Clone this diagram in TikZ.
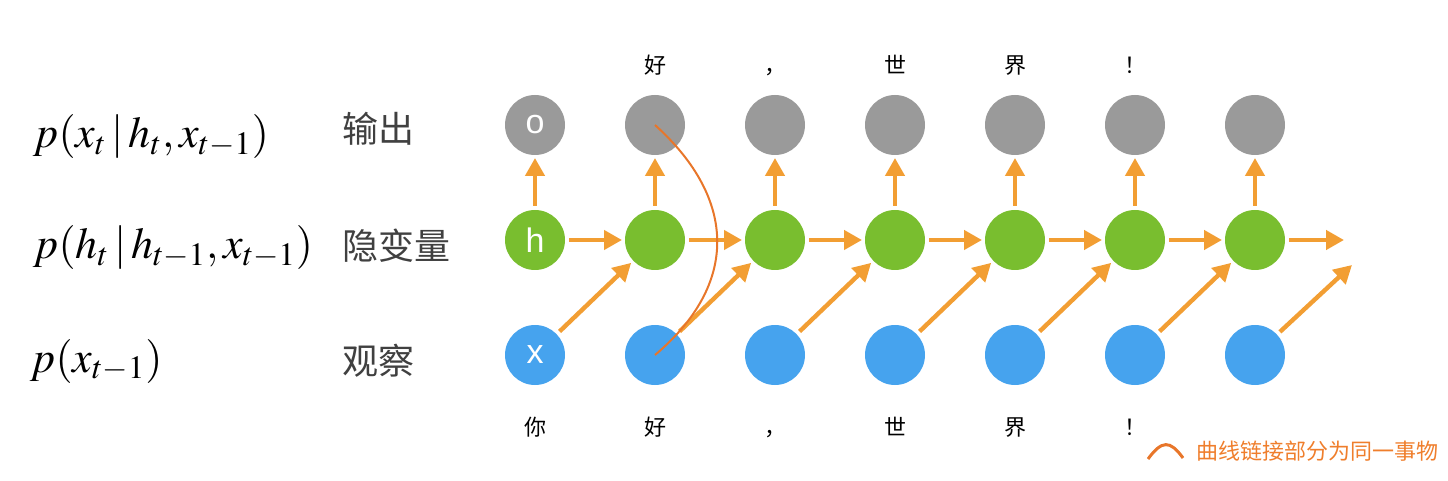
\documentclass[tikz,border=0pt]{standalone}
\usepackage{mathptmx}
\usepackage[no-math]{fontspec}
\newfontfamily\cjk{Noto Sans CJK SC}
\newfontfamily\letterfont{Liberation Sans}
\usetikzlibrary{arrows.meta,positioning,calc}
\definecolor{outgray}{HTML}{9A9A9A}
\definecolor{hidgreen}{HTML}{79BE2F}
\definecolor{obsblue}{HTML}{46A3EE}
\definecolor{arrorange}{HTML}{F29E33}
\definecolor{linkorange}{HTML}{E8762A}
\definecolor{notecolor}{HTML}{EF7E2C}
\definecolor{layergray}{HTML}{404040}

\begin{document}
\begin{tikzpicture}
	[x=0.5pt,y=-0.5pt,
	 state/.style={circle,minimum size=30pt,inner sep=0pt,outer sep=0pt,text=white,
		font=\letterfont\fontsize{17}{17}\selectfont},
	 outstate/.style={state,fill=outgray},
	 hidstate/.style={state,fill=hidgreen},
	 obsstate/.style={state,fill=obsblue},
	 arr/.style={-{Triangle[length=9pt,width=9.5pt]},line width=2.2pt,arrorange,
		shorten <=2pt,shorten >=1.5pt},
	 link/.style={linkorange,line width=1pt},
	 word/.style={font=\cjk\fontsize{11}{11}\selectfont,inner sep=0pt,
		text height=0.88em,text depth=0.12em},
	 layer/.style={font=\cjk\fontsize{18}{18}\selectfont,text=layergray,anchor=west,inner sep=0pt},
	 prob/.style={font=\fontsize{22}{22}\selectfont,anchor=west,inner sep=0pt}]
	\useasboundingbox (0,0) rectangle (1448,481);

	% formulas and layer names
	\node[prob] (p1) at (33,137) {$p(x_t\,|\,h_t, x_{t-1})$};
	\node[prob] (p2) at (33,248) {$p(h_t\,|\,h_{t-1}, x_{t-1})$};
	\node[prob] (p3) at (30,361) {$p(x_{t-1})$};
	\node[layer] (lo) at (342,129) {输出};
	\node[layer] (lh) at (342,246) {隐变量};
	\node[layer] (lx) at (342,361) {观察};

	% first column
	\node[outstate] (o1) at (535,125) {o};
	\node[hidstate] (h1) at (535,240) {h};
	\node[obsstate] (x1) at (535,355) {x};
	% remaining columns
	\foreach \i in {2,...,7} {
		\pgfmathsetmacro\px{415+120*\i}
		\node[outstate] (o\i) at (\px,125) {};
		\node[hidstate] (h\i) at (\px,240) {};
		\node[obsstate] (x\i) at (\px,355) {};
	}
	\coordinate (hout) at (1344,240);
	\coordinate (hin) at (1352,265);

	% connections
	\foreach \i in {1,...,7}
		\draw[arr] (h\i) -- (o\i);
	\foreach \i [evaluate=\i as \j using int(\i+1)] in {1,...,6} {
		\draw[arr] (h\i) -- (h\j);
		\draw[arr] (x\i) -- (h\j);
	}
	\draw[arr,shorten >=0pt] (h7) -- (hout);
	\draw[arr,shorten >=0pt] (x7) -- (hin);

	% words
	\foreach \i/\w in {2/好,3/，,4/世,5/界,6/！}
		\node[word,above=9.5pt of o\i] (t\i) {\w};
	\foreach \i/\w in {1/你,2/好,3/，,4/世,5/界,6/！}
		\node[word,below=16.5pt of x\i] (b\i) {\w};

	% same thing link
	\draw[link] (o2.center) .. controls (738,200) and (738,285) .. (x2.center);

	% legend
	\draw[link,line width=1.5pt] (1148,459) .. controls (1162,440) and (1170,440) .. (1183,458);
	\node[word,anchor=west,text=notecolor] (note) at (1196,452) {曲线链接部分为同一事物};
\end{tikzpicture}
\end{document}
